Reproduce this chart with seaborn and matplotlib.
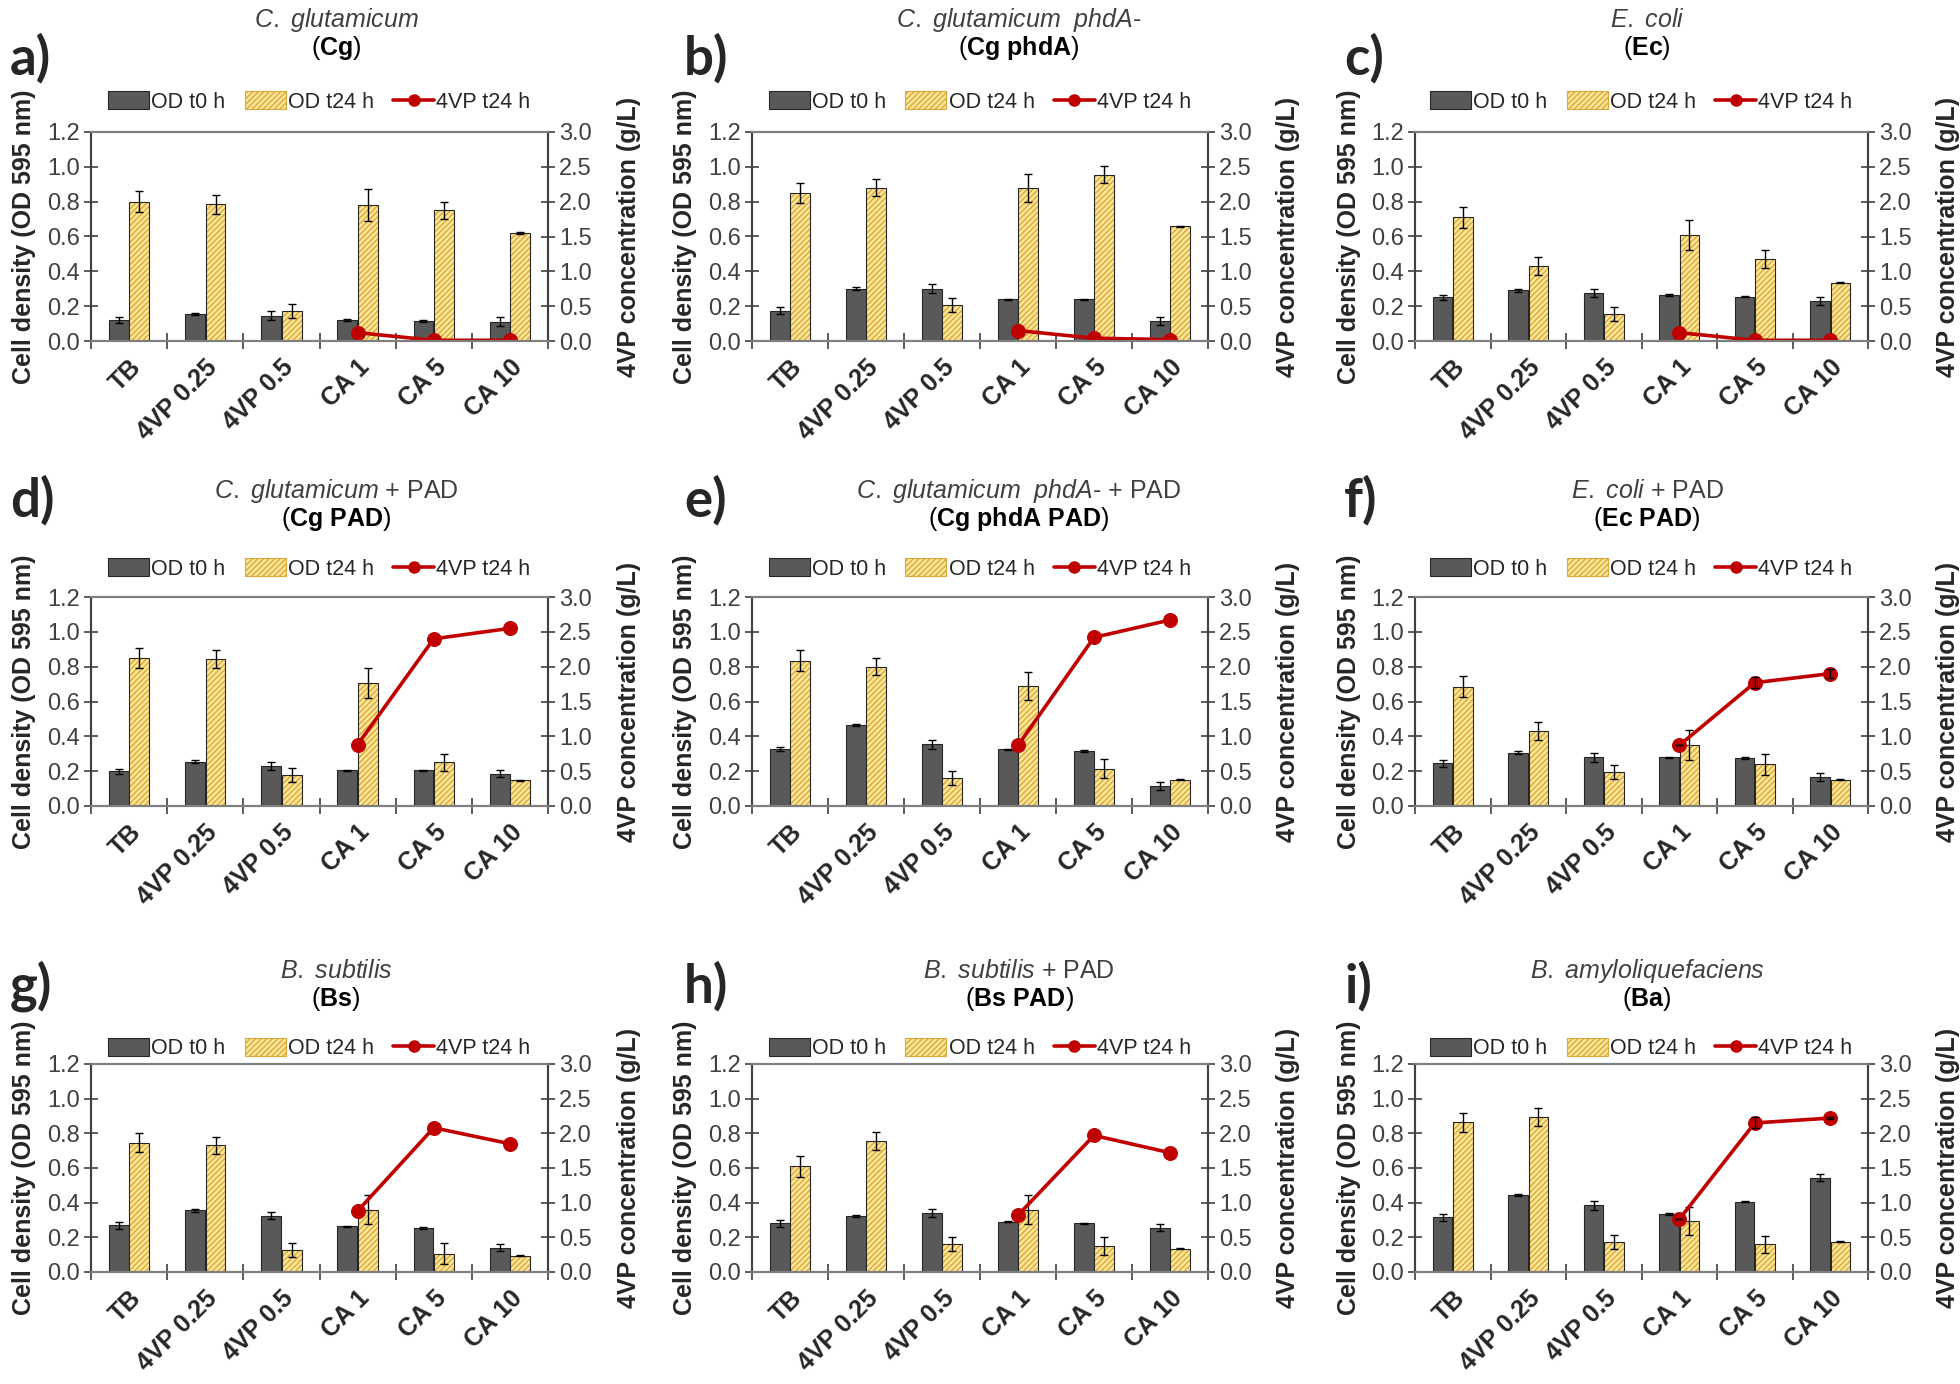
import numpy as np
import pandas as pd
import matplotlib
matplotlib.use('Agg')
import matplotlib.pyplot as plt
import seaborn as sns
from matplotlib.patches import Patch
from matplotlib.lines import Line2D
from matplotlib.colors import to_rgba
from matplotlib.ticker import MultipleLocator, FormatStrFormatter, FixedLocator


# Data

conditions = ['TB', '4VP 0.25', '4VP 0.5', 'CA 1', 'CA 5', 'CA 10']
vp_conditions = ['CA 1', 'CA 5', 'CA 10']

letters = ['a)', 'b)', 'c)', 'd)', 'e)', 'f)', 'g)', 'h)', 'i)']
species = ['C. glutamicum', 'C. glutamicum  phdA', 'E. coli',
           'C. glutamicum', 'C. glutamicum  phdA', 'E. coli',
           'B. subtilis', 'B. subtilis', 'B. amyloliquefaciens']
suffix = ['', '-', '', ' + PAD', '- + PAD', ' + PAD', '', ' + PAD', '']
abbrev = ['Cg', 'Cg phdA', 'Ec', 'Cg PAD', 'Cg phdA PAD', 'Ec PAD',
          'Bs', 'Bs PAD', 'Ba']

# OD at t0 h, one row per panel (a..i)
od_t0 = [
    [0.120, 0.155, 0.145, 0.120, 0.115, 0.110],
    [0.175, 0.300, 0.300, 0.240, 0.240, 0.115],
    [0.250, 0.290, 0.275, 0.265, 0.255, 0.230],
    [0.200, 0.255, 0.230, 0.205, 0.205, 0.185],
    [0.325, 0.465, 0.355, 0.325, 0.315, 0.115],
    [0.245, 0.305, 0.280, 0.280, 0.275, 0.165],
    [0.270, 0.355, 0.325, 0.265, 0.255, 0.140],
    [0.280, 0.325, 0.340, 0.290, 0.280, 0.255],
    [0.315, 0.445, 0.385, 0.335, 0.405, 0.545],
]
od_t0_err = [
    [0.015, 0.008, 0.025, 0.004, 0.006, 0.025],
    [0.020, 0.010, 0.025, 0.003, 0.003, 0.025],
    [0.015, 0.008, 0.025, 0.004, 0.005, 0.025],
    [0.015, 0.008, 0.025, 0.004, 0.004, 0.020],
    [0.012, 0.008, 0.025, 0.004, 0.006, 0.022],
    [0.020, 0.008, 0.025, 0.004, 0.004, 0.022],
    [0.020, 0.006, 0.020, 0.003, 0.005, 0.020],
    [0.018, 0.006, 0.025, 0.004, 0.004, 0.020],
    [0.020, 0.006, 0.025, 0.004, 0.004, 0.022],
]

# OD at t24 h
od_t24 = [
    [0.800, 0.785, 0.170, 0.780, 0.750, 0.620],
    [0.850, 0.880, 0.205, 0.880, 0.955, 0.660],
    [0.710, 0.430, 0.155, 0.610, 0.470, 0.335],
    [0.850, 0.845, 0.180, 0.705, 0.250, 0.148],
    [0.835, 0.800, 0.160, 0.690, 0.215, 0.150],
    [0.685, 0.430, 0.195, 0.350, 0.240, 0.150],
    [0.745, 0.730, 0.125, 0.360, 0.105, 0.095],
    [0.610, 0.755, 0.160, 0.360, 0.150, 0.135],
    [0.865, 0.895, 0.175, 0.295, 0.160, 0.175],
]
od_t24_err = [
    [0.060, 0.055, 0.040, 0.090, 0.050, 0.003],
    [0.055, 0.050, 0.040, 0.080, 0.050, 0.003],
    [0.060, 0.050, 0.040, 0.085, 0.050, 0.003],
    [0.060, 0.050, 0.040, 0.085, 0.050, 0.003],
    [0.060, 0.050, 0.040, 0.080, 0.055, 0.003],
    [0.060, 0.050, 0.040, 0.085, 0.060, 0.003],
    [0.055, 0.050, 0.040, 0.085, 0.060, 0.003],
    [0.060, 0.050, 0.040, 0.085, 0.050, 0.002],
    [0.055, 0.050, 0.040, 0.080, 0.050, 0.002],
]

# 4VP concentration at t24 h (g/L), CA conditions only
vp_t24 = [
    [0.12, 0.01, 0.01],
    [0.15, 0.04, 0.02],
    [0.12, 0.01, 0.01],
    [0.88, 2.40, 2.55],
    [0.87, 2.42, 2.67],
    [0.87, 1.77, 1.90],
    [0.88, 2.08, 1.85],
    [0.82, 1.97, 1.72],
    [0.76, 2.15, 2.22],
]
vp_t24_err = [
    [0.0, 0.0, 0.0],
    [0.0, 0.0, 0.0],
    [0.0, 0.0, 0.0],
    [0.0, 0.0, 0.0],
    [0.0, 0.0, 0.0],
    [0.0, 0.08, 0.06],
    [0.0, 0.0, 0.0],
    [0.0, 0.0, 0.0],
    [0.0, 0.08, 0.02],
]


# Style

sns.set_style('ticks')
plt.rcParams['font.family'] = ['Liberation Sans', 'DejaVu Sans']
plt.rcParams['mathtext.fontset'] = 'custom'
plt.rcParams['mathtext.rm'] = 'Liberation Sans'
plt.rcParams['mathtext.it'] = 'Liberation Sans:italic'
plt.rcParams['mathtext.bf'] = 'Liberation Sans:bold'

GREY = '#595959'
YELLOW = '#FFE699'
HATCH = '#D9A93A'
RED = '#C00000'
SPINE = '#7F7F7F'
TEXT = '#404040'

W, H = 1960, 1384
row_y = [(132, 341), (597, 806), (1064, 1272)]
col_x = [(91, 548), (752, 1208), (1415, 1868)]
title_y = [20, 491, 971]
letter_y = [58, 500, 986]
legend_y = [1.02, 1.01, 0.95]
title_x = [336, 1019, 1647]
letter_x = [10, 684, 1344]

fig = plt.figure(figsize=(W / 100, H / 100), dpi=100)

for i in range(9):
    r, c = divmod(i, 3)
    top, bottom = row_y[r]
    left, right = col_x[c]
    ax = fig.add_axes([left / W, 1 - bottom / H, (right - left) / W, (bottom - top) / H])

    df = pd.DataFrame({
        'condition': conditions * 2,
        'od': od_t0[i] + od_t24[i],
        'time': ['OD t0 h'] * 6 + ['OD t24 h'] * 6,
    })
    sns.barplot(data=df, x='condition', y='od', hue='time', order=conditions,
                hue_order=['OD t0 h', 'OD t24 h'],
                palette={'OD t0 h': GREY, 'OD t24 h': YELLOW},
                width=0.54, gap=0.04, saturation=1, errorbar=None,
                edgecolor='#262626', linewidth=0.8, legend=False, ax=ax)

    # hatched fill for the t24 bars
    for bar in ax.containers[1]:
        bar.set_hatch('//////')
        bar._hatch_color = to_rgba(HATCH)

    for cont, err in zip(ax.containers, [od_t0_err[i], od_t24_err[i]]):
        xs = [b.get_x() + b.get_width() / 2 for b in cont]
        ys = [b.get_height() for b in cont]
        ax.errorbar(xs, ys, yerr=err, fmt='none', ecolor='black',
                    elinewidth=1, capsize=3, capthick=1, zorder=5)

    # 4VP on the secondary axis
    ax2 = ax.twinx()
    vx = [conditions.index(cn) for cn in vp_conditions]
    sns.lineplot(x=vx, y=vp_t24[i], ax=ax2, color=RED, marker='o',
                 markersize=10, markeredgecolor=RED, linewidth=2.6)
    if any(e > 0 for e in vp_t24_err[i]):
        ax2.errorbar(vx, vp_t24[i], yerr=vp_t24_err[i], fmt='none',
                     ecolor='black', elinewidth=1, capsize=3)

    ax.set_xlim(-0.5, 5.5)
    ax2.set_xlim(-0.5, 5.5)
    ax.set_ylim(0, 1.2)
    ax2.set_ylim(0, 3.0)

    ax.yaxis.set_major_locator(MultipleLocator(0.2))
    ax.yaxis.set_major_formatter(FormatStrFormatter('%.1f'))
    ax2.yaxis.set_major_locator(MultipleLocator(0.5))
    ax2.yaxis.set_major_formatter(FormatStrFormatter('%.1f'))

    ax.set_xticks(range(len(conditions)))
    ax.set_xticklabels(conditions, rotation=45, ha='right',
                       rotation_mode='anchor', fontweight='bold', fontsize=18)
    ax.xaxis.set_minor_locator(FixedLocator(np.arange(-0.5, 6, 1)))
    ax.tick_params(axis='x', which='major', length=0, pad=10)
    ax.tick_params(axis='x', which='minor', direction='inout', length=12,
                   width=1.2, color=TEXT)
    ax.tick_params(axis='y', direction='inout', length=10, width=1.2,
                   color=TEXT, labelsize=17, labelcolor=TEXT, pad=3)
    ax2.tick_params(axis='y', direction='inout', length=10, width=1.2,
                    color=TEXT, labelsize=17, labelcolor=TEXT, pad=3)

    for a in (ax, ax2):
        for side in ['left', 'right', 'top', 'bottom']:
            a.spines[side].set_visible(True)
            a.spines[side].set_color(SPINE)
            a.spines[side].set_linewidth(1.5)
    ax2.spines['left'].set_color('#404040')
    ax2.spines['right'].set_color('#404040')

    ax.set_xlabel('')
    ax.set_ylabel('Cell density (OD 595 nm)', fontsize=18, fontweight='bold')
    ax2.set_ylabel('4VP concentration (g/L)', fontsize=18, fontweight='bold')
    ax.yaxis.set_label_coords(-0.12, 0.5)
    ax2.yaxis.set_label_coords(1.15, 0.5)

    handles = [
        Patch(facecolor=GREY, edgecolor='#262626', linewidth=0.8),
        Patch(facecolor=YELLOW, edgecolor=HATCH, hatch='//////', linewidth=0.8),
        Line2D([0], [0], color=RED, marker='o', markersize=8, linewidth=2.6),
    ]
    ax.legend(handles, ['OD t0 h', 'OD t24 h', '4VP t24 h'], ncol=3,
              loc='lower center', bbox_to_anchor=(0.5, legend_y[r]),
              frameon=False, fontsize=15.5, handlelength=1.9,
              handleheight=0.9, handletextpad=0.1, columnspacing=0.9,
              borderaxespad=0.3, labelcolor='#262626')

    name = species[i].replace(' ', r'\ ')
    fig.text(title_x[c] / W, 1 - title_y[r] / H,
             r'$\mathit{' + name + '}$' + suffix[i],
             ha='center', va='center', fontsize=18, color=TEXT)
    fig.text(title_x[c] / W, 1 - (title_y[r] + 28) / H,
             '(' + r'$\mathbf{' + abbrev[i].replace(' ', r'\ ') + '}$' + ')',
             ha='center', va='center', fontsize=18, color='black')
    fig.text(letter_x[c] / W, 1 - letter_y[r] / H, letters[i],
             ha='left', va='center', fontsize=38, fontweight='bold',
             family=['Lato', 'DejaVu Sans'])

fig.savefig('out.png', dpi=100, facecolor='white')
